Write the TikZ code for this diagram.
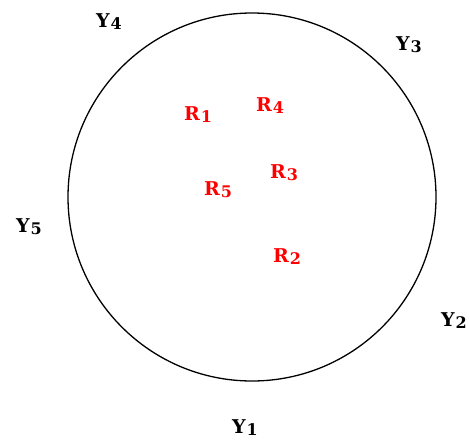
\documentclass[tikz,border=0pt]{standalone}
\usepackage{fontspec}
\setmainfont{DejaVu Serif}
\tikzset{
  lbl/.style={font=\bfseries\fontsize{19}{22}\selectfont, inner sep=0pt, text=black},
  rlbl/.style={lbl, text=red},
  ring/.style={draw=black, line width=1.3pt}
}
\newcommand{\lab}[2]{#1\kern1pt\raisebox{-2pt}{\fontsize{16}{18}\selectfont #2}}
\begin{document}
\begin{tikzpicture}[x=1pt,y=-1pt]
\useasboundingbox (0,0) rectangle (470,439);
\node[ring, circle, minimum size=368pt, inner sep=0pt] (c) at (252,197) {};
\node[lbl] (y1) at (245,428) {\lab{Y}{1}};
\node[lbl] (y2) at (454,321) {\lab{Y}{2}};
\node[lbl] (y3) at (409,45) {\lab{Y}{3}};
\node[lbl] (y4) at (109,22) {\lab{Y}{4}};
\node[lbl] (y5) at (29,227) {\lab{Y}{5}};
\node[rlbl] (r1) at (198,115) {\lab{R}{1}};
\node[rlbl] (r2) at (287,257) {\lab{R}{2}};
\node[rlbl] (r3) at (284,173) {\lab{R}{3}};
\node[rlbl] (r4) at (270,106) {\lab{R}{4}};
\node[rlbl] (r5) at (218,190) {\lab{R}{5}};
\end{tikzpicture}
\end{document}
